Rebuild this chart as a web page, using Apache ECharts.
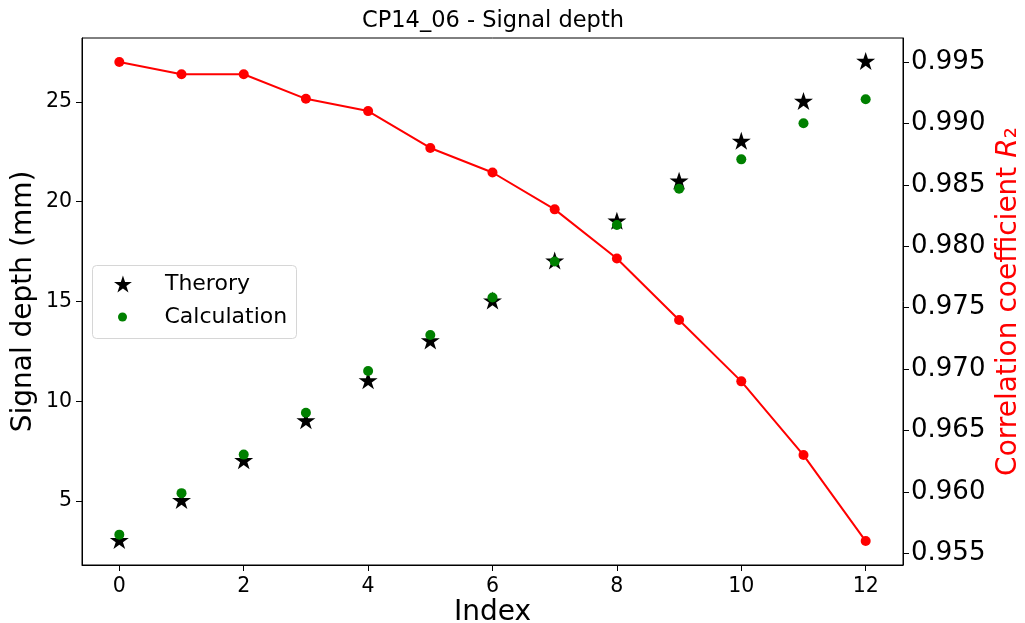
<!DOCTYPE html>
<html>
<head>
<meta charset="utf-8">
<script src="https://cdn.jsdelivr.net/npm/echarts@6/dist/echarts.min.js"></script>
<style>
html,body{margin:0;padding:0;background:#fff;}
#chart{width:1025px;height:623px;}
</style>
</head>
<body>
<div id="chart"></div>
<script>
// ---- data ----
const indices = [0, 1, 2, 3, 4, 5, 6, 7, 8, 9, 10, 11, 12];
const theory = [3, 5, 7, 9, 11, 13, 15, 17, 19, 21, 23, 25, 27];
const calculation = [3.32, 5.4, 7.33, 9.43, 11.52, 13.32, 15.2, 17.0, 18.83, 20.65, 22.12, 23.93, 25.13];
const r2 = [0.995, 0.994, 0.994, 0.992, 0.991, 0.988, 0.986, 0.983, 0.979, 0.974, 0.969, 0.963, 0.956];
const xTicks = [0, 2, 4, 6, 8, 10, 12];
const leftTicks = [5, 10, 15, 20, 25];
const rightTicks = [0.955, 0.96, 0.965, 0.97, 0.975, 0.98, 0.985, 0.99, 0.995];

const STAR = 'path://M0,-1 L0.2245,-0.309 L0.9511,-0.309 L0.3633,0.118 L0.5878,0.809 L0,0.382 L-0.5878,0.809 L-0.3633,0.118 L-0.9511,-0.309 L-0.2245,-0.309 Z';
const FONT = 'DejaVu Sans';

const chart = echarts.init(document.getElementById('chart'), null, {renderer: 'canvas'});
const option = {
  animation: false,
  backgroundColor: '#ffffff',
  textStyle: {fontFamily: FONT},
  title: {
    text: 'CP14_06 - Signal depth',
    left: 362,
    top: 10,
    padding: 0,
    textStyle: {fontFamily: FONT, fontSize: 22.5, fontWeight: 'normal', color: '#000'}
  },
  graphic: [{
    type: 'rect',
    shape: {x: 92.5, y: 265.5, width: 204, height: 73, r: 4},
    style: {fill: 'rgba(255,255,255,0.8)', stroke: '#d6d6d6', lineWidth: 1},
    z: 100
  }],
  legend: [{
    data: [{name: 'Therory', icon: STAR}],
    orient: 'vertical', left: 114, top: 273, padding: 0,
    itemWidth: 18, itemHeight: 17, z: 101,
    formatter: name => '{s|}' + name,
    textStyle: {fontFamily: FONT, fontSize: 22, color: '#000', rich: {s: {width: 28}}}
  }, {
    data: [{name: 'Calculation', icon: 'circle'}],
    orient: 'vertical', left: 118, top: 306, padding: 0,
    itemWidth: 10, itemHeight: 9, z: 101,
    formatter: name => '{s|}' + name,
    textStyle: {fontFamily: FONT, fontSize: 22, color: '#000', rich: {s: {width: 32}}}
  }],
  grid: {
    left: 82, right: 122, top: 38, bottom: 58,
    outerBoundsMode: 'none', containLabel: false,
    show: true, borderColor: '#000', borderWidth: 1, backgroundColor: 'transparent'
  },
  xAxis: {
    type: 'value', min: -0.6, max: 12.6,
    name: 'Index', nameLocation: 'middle', nameGap: 34, nameMoveOverlap: false,
    nameTextStyle: {fontFamily: FONT, fontSize: 28, color: '#000'},
    axisLine: {show: true, onZero: false, lineStyle: {color: '#000', width: 1}},
    axisTick: {show: true, length: 6, customValues: xTicks, lineStyle: {color: '#000'}},
    axisLabel: {customValues: xTicks, margin: 11, fontFamily: FONT, fontSize: 20.5, color: '#000'},
    splitLine: {show: false}
  },
  yAxis: [{
    type: 'value', min: 1.8, max: 28.2, position: 'left',
    name: 'Signal depth (mm)', nameLocation: 'middle', nameGap: 44, nameRotate: 90, nameMoveOverlap: false,
    nameTextStyle: {fontFamily: FONT, fontSize: 28, color: '#000'},
    axisLine: {show: true, onZero: false, lineStyle: {color: '#000', width: 1}},
    axisTick: {show: true, length: 6, customValues: leftTicks, lineStyle: {color: '#000'}},
    axisLabel: {customValues: leftTicks, margin: 10, fontFamily: FONT, fontSize: 20.5, color: '#000'},
    splitLine: {show: false}
  }, {
    type: 'value', min: 0.95405, max: 0.99695, position: 'right',
    name: '{a|Correlation coefficient }{r|R}{a|₂}', nameLocation: 'middle', nameGap: 92, nameRotate: 90, nameMoveOverlap: false,
    nameTextStyle: {
      fontFamily: FONT, fontSize: 28, color: '#ff0000',
      rich: {
        a: {fontFamily: FONT, fontSize: 28, color: '#ff0000'},
        r: {fontFamily: FONT, fontSize: 28, color: '#ff0000', fontStyle: 'italic'}
      }
    },
    axisLine: {show: true, onZero: false, lineStyle: {color: '#000', width: 1}},
    axisTick: {show: true, length: 6, customValues: rightTicks, lineStyle: {color: '#000'}},
    axisLabel: {
      customValues: rightTicks, margin: 8, fontFamily: FONT, fontSize: 26, color: '#000',
      formatter: v => v.toFixed(3)
    },
    splitLine: {show: false}
  }],
  series: [{
    name: 'Therory', type: 'scatter', xAxisIndex: 0, yAxisIndex: 0,
    symbol: STAR, symbolSize: [19, 18], symbolOffset: [0, -1],
    itemStyle: {color: '#000000', opacity: 1}, z: 2,
    data: indices.map((x, i) => [x, theory[i]])
  }, {
    name: 'Calculation', type: 'scatter', xAxisIndex: 0, yAxisIndex: 0,
    symbol: 'circle', symbolSize: 10,
    itemStyle: {color: '#008000', opacity: 1}, z: 3,
    data: indices.map((x, i) => [x, calculation[i]])
  }, {
    name: 'R2', type: 'line', xAxisIndex: 0, yAxisIndex: 1,
    symbol: 'circle', symbolSize: 10, showSymbol: true,
    lineStyle: {color: '#ff0000', width: 2},
    itemStyle: {color: '#ff0000', opacity: 1}, z: 4,
    data: indices.map((x, i) => [x, r2[i]])
  }]
};
chart.setOption(option);
</script>
</body>
</html>
